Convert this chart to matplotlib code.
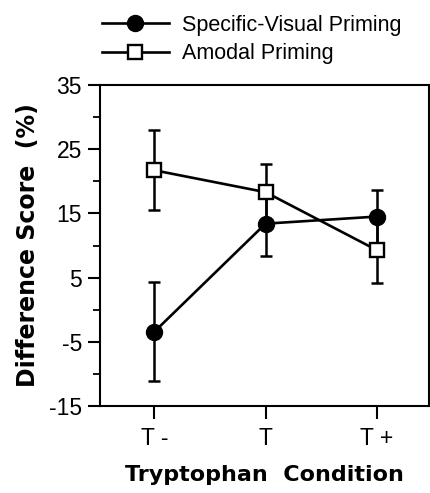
import matplotlib.pyplot as plt
from matplotlib.lines import Line2D
import numpy as np

plt.rcParams["font.family"] = ["Liberation Sans", "DejaVu Sans"]
plt.rcParams["axes.unicode_minus"] = False

conditions = ["T -", "T", "T +"]
specific = [-3.4, 13.4, 14.5]
specific_err = [7.7, 5.0, 4.1]
amodal = [21.7, 18.3, 9.3]
amodal_err = [6.2, 4.4, 5.2]

x = np.arange(len(conditions))

fig = plt.figure(figsize=(4.31, 4.93), dpi=100)
ax = fig.add_axes([0.232, 0.176, 0.763, 0.652])

ax.errorbar(x, specific, yerr=specific_err, fmt="none", ecolor="black",
            capsize=4, capthick=1.8, elinewidth=1.8, zorder=2)
ax.errorbar(x, amodal, yerr=amodal_err, fmt="none", ecolor="black",
            capsize=4, capthick=1.8, elinewidth=1.8, zorder=2)
ax.plot(x, specific, color="black", lw=1.9, marker="o", ms=11.5,
        mfc="black", mec="black", zorder=3)
ax.plot(x, amodal, color="black", lw=1.9, marker="s", ms=10.5,
        mfc="white", mec="black", mew=1.7, zorder=4)

ax.set_xlim(-0.49, 2.47)
ax.set_ylim(-15, 35)
ax.set_yticks(np.arange(-15, 36, 10))
ax.set_yticks(np.arange(-10, 35, 10), minor=True)
ax.set_xticks(x)
ax.set_xticklabels(conditions)
ax.tick_params(axis="both", which="major", length=9, width=1.5,
               labelsize=16.5, direction="out")
ax.tick_params(axis="y", which="minor", length=5, width=1.3)
ax.tick_params(axis="x", pad=6)
ax.tick_params(axis="y", pad=4)
for s in ax.spines.values():
    s.set_linewidth(1.5)

ax.set_ylabel("Difference Score  (%)", fontsize=17, fontweight="bold",
              family="DejaVu Sans", labelpad=6)
ax.set_xlabel("Tryptophan  Condition", fontsize=16, fontweight="bold",
              family="DejaVu Sans", labelpad=11)

handles = [
    Line2D([], [], color="black", lw=1.9, marker="o", ms=11.5, mfc="black"),
    Line2D([], [], color="black", lw=1.9, marker="s", ms=10.5, mfc="white", mew=1.7),
]
fig.legend(handles, ["Specific-Visual Priming", "Amodal Priming"],
           loc="upper left", bbox_to_anchor=(0.209, 0.994), frameon=False,
           fontsize=15.5, handlelength=3.1, handletextpad=0.6, labelspacing=0.35,
           borderaxespad=0.15)

plt.savefig("out.png", dpi=100)
